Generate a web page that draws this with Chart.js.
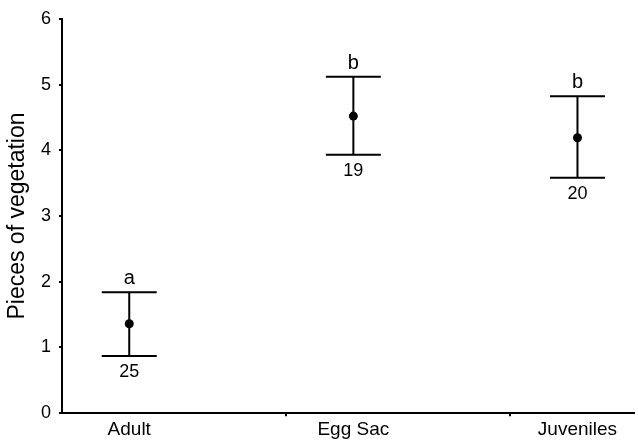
<!DOCTYPE html>
<html>
<head>
<meta charset="utf-8">
<script src="https://cdn.jsdelivr.net/npm/chart.js@4"></script>
<style>
html,body{margin:0;padding:0;background:#fff;}
#wrap{width:638px;height:440px;}
</style>
</head>
<body>
<div id="wrap"><canvas id="c" width="638" height="440"></canvas></div>
<script>
const categories = ['Adult', 'Egg Sac', 'Juveniles'];
const categoryPositions = [0.30, 1.30, 2.30];
const xTickMarks = [1, 2];
const means = [1.36, 4.52, 4.19];
const upper = [1.84, 5.12, 4.82];
const lower = [0.87, 3.93, 3.58];
const letters = ['a', 'b', 'b'];
const sampleSizes = ['25', '19', '20'];
const yTicks = [0, 1, 2, 3, 4, 5, 6];

const FONT = '"Liberation Sans", Arial, Helvetica, sans-serif';

const errorBarPlugin = {
  id: 'errorBars',
  afterDatasetsDraw(chart) {
    const ctx = chart.ctx;
    const xs = chart.scales.x, ys = chart.scales.y;
    ctx.save();
    ctx.strokeStyle = '#000';
    ctx.fillStyle = '#000';
    ctx.lineWidth = 2;
    const half = 27.5;
    for (let i = 0; i < means.length; i++) {
      const px = xs.getPixelForValue(categoryPositions[i]);
      const pu = ys.getPixelForValue(upper[i]);
      const pl = ys.getPixelForValue(lower[i]);
      ctx.beginPath();
      ctx.moveTo(px, pu); ctx.lineTo(px, pl);
      ctx.moveTo(px - half, pu); ctx.lineTo(px + half, pu);
      ctx.moveTo(px - half, pl); ctx.lineTo(px + half, pl);
      ctx.stroke();
      ctx.textAlign = 'center';
      ctx.font = '20px ' + FONT;
      ctx.textBaseline = 'alphabetic';
      ctx.fillText(letters[i], px, pu - 8);
      ctx.font = '18px ' + FONT;
      ctx.textBaseline = 'top';
      ctx.fillText(sampleSizes[i], px, pl + 7);
    }
    ctx.restore();
  }
};

new Chart(document.getElementById('c'), {
  type: 'scatter',
  data: {
    datasets: [{
      data: means.map((m, i) => ({x: categoryPositions[i], y: m})),
      pointRadius: 4.5,
      pointHoverRadius: 4.5,
      pointBackgroundColor: '#000',
      pointBorderColor: '#000',
      pointBorderWidth: 0
    }]
  },
  options: {
    responsive: false,
    animation: false,
    events: [],
    layout: {padding: {top: 1, right: 0, left: 6, bottom: -3}},
    plugins: {legend: {display: false}, tooltip: {enabled: false}},
    scales: {
      x: {
        type: 'linear',
        min: 0,
        max: 2.55,
        afterBuildTicks(scale) {
          const t = categoryPositions.concat(xTickMarks).sort((a, b) => a - b);
          scale.ticks = t.map(v => ({value: v}));
        },
        ticks: {
          autoSkip: false,
          maxRotation: 0,
          padding: 2,
          color: '#000',
          font: {family: FONT, size: 19},
          callback(v) {
            const i = categoryPositions.indexOf(v);
            return i >= 0 ? categories[i] : '';
          }
        },
        grid: {
          drawOnChartArea: false,
          drawTicks: true,
          tickLength: 3,
          lineWidth: 2,
          color(ctx) {
            return (ctx.tick && xTickMarks.includes(ctx.tick.value)) ? '#000' : 'rgba(0,0,0,0)';
          }
        },
        border: {display: true, color: '#000', width: 2}
      },
      y: {
        min: 0,
        max: 6,
        afterBuildTicks(scale) {
          scale.ticks = yTicks.map(v => ({value: v}));
        },
        ticks: {
          padding: 8,
          color: '#000',
          font: {family: FONT, size: 18, lineHeight: 1.2}
        },
        title: {
          display: true,
          text: 'Pieces of vegetation',
          color: '#000',
          font: {family: FONT, size: 23, lineHeight: 1},
          padding: {top: 0, bottom: 4}
        },
        grid: {
          drawOnChartArea: false,
          drawTicks: true,
          tickLength: 3,
          lineWidth: 2,
          color: '#000'
        },
        border: {display: true, color: '#000', width: 2}
      }
    }
  },
  plugins: [errorBarPlugin]
});
</script>
</body>
</html>
